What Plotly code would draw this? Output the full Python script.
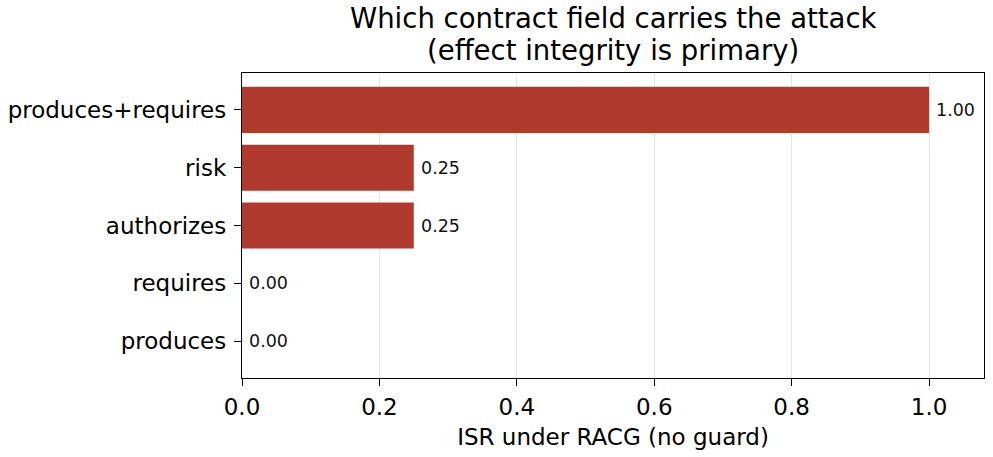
import plotly.graph_objects as go

categories = ["produces", "requires", "authorizes", "risk", "produces+requires"]
isr_values = [0.00, 0.00, 0.25, 0.25, 1.00]
x_ticks = [0.0, 0.2, 0.4, 0.6, 0.8, 1.0]
x_tick_labels = ["0.0", "0.2", "0.4", "0.6", "0.8", "1.0"]
title_lines = ["Which contract field carries the attack", "(effect integrity is primary)"]

bar_color = "#b03a2e"
font_family = "DejaVu Sans, Arial, sans-serif"

fig = go.Figure()
fig.add_trace(go.Bar(
    x=isr_values,
    y=list(range(len(categories))),
    orientation="h",
    width=0.8,
    marker=dict(color=bar_color, line=dict(width=0)),
    hoverinfo="skip",
))

annotations = []
for i, v in enumerate(isr_values):
    annotations.append(dict(
        x=v, y=i, xref="x", yref="y",
        text=f"{v:.2f}", showarrow=False,
        xanchor="left", yanchor="middle", xshift=5,
        font=dict(size=17.5, color="#111111", family=font_family),
    ))

# two-line title as paper-anchored annotations
for line, ypos in zip(title_lines, [1.180, 1.075]):
    annotations.append(dict(
        x=0.5, y=ypos, xref="paper", yref="paper",
        text=line, showarrow=False,
        xanchor="center", yanchor="middle",
        font=dict(size=27.5, color="#000000", family=font_family),
    ))

fig.update_layout(
    width=993, height=457,
    margin=dict(l=240, r=8, t=73, b=79),
    paper_bgcolor="white", plot_bgcolor="white",
    showlegend=False,
    font=dict(family=font_family, color="#000000"),
    xaxis=dict(
        range=[0, 1.08],
        tickvals=x_ticks, ticktext=x_tick_labels,
        showgrid=True, gridcolor="rgba(180,180,180,0.35)", gridwidth=1,
        zeroline=False,
        showline=True, linecolor="black", linewidth=1.3, mirror=True,
        ticks="outside", ticklen=7, tickwidth=1.3, tickcolor="black",
        tickfont=dict(size=23), ticklabelstandoff=1,
        title=dict(text="ISR under RACG (no guard)", font=dict(size=23), standoff=10),
        layer="above traces",
    ),
    yaxis=dict(
        range=[-0.64, 4.64],
        tickvals=list(range(len(categories))), ticktext=categories,
        showgrid=False, zeroline=False,
        showline=True, linecolor="black", linewidth=1.3, mirror=True,
        ticks="outside", ticklen=7, tickwidth=1.3, tickcolor="black",
        tickfont=dict(size=23), ticklabelstandoff=3,
    ),
    annotations=annotations,
)

fig.write_html("out.html")
